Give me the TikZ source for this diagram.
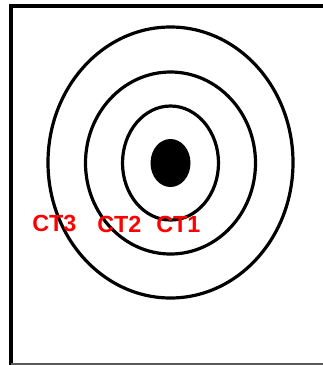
\documentclass[tikz,border=0pt]{standalone}
\usepackage{fontspec}
\setmainfont{Liberation Sans}
\usepackage{xcolor}
\usetikzlibrary{shapes}

\tikzset{
  ring/.style={line width=2.4pt, draw={rgb, 255:red, 0; green, 0; blue, 0}},
  ctlabel/.style={anchor=south west, inner sep=0pt, color={rgb, 255:red, 255; green, 0; blue, 0}, font=\fontsize{17.5}{19}\selectfont\bfseries}
}

\begin{document}
\begin{tikzpicture}[x=0.75pt,y=0.75pt,yscale=-1,xscale=1]
\useasboundingbox (0,0) rectangle (323,365);

%Straight Lines [id:frame]
\draw [line width=2.4pt]  (11,365) -- (11,6) -- (323,6) ;
\draw [color={rgb, 255:red, 90; green, 90; blue, 90 }, line width=0.9pt]  (11,364) -- (323,364) ;

%Shape: Ellipse [id:ct3]
\draw [ring] (170.5,162.5) ellipse (122.5 and 135.5) ;
%Shape: Ellipse [id:ct2]
\draw [ring] (170.5,163) ellipse (85 and 91) ;
%Shape: Ellipse [id:ct1]
\draw [ring] (170.5,163) ellipse (48 and 57) ;
%Shape: Ellipse [id:core]
\fill (170.5,163) ellipse (20 and 24) ;

% Text Node
\node [ctlabel] (lblct3) at (32,232.5) {CT3};
% Text Node
\node [ctlabel] (lblct2) at (97,232.5) {CT2};
% Text Node
\node [ctlabel] (lblct1) at (156,232.5) {CT1};

\end{tikzpicture}
\end{document}
